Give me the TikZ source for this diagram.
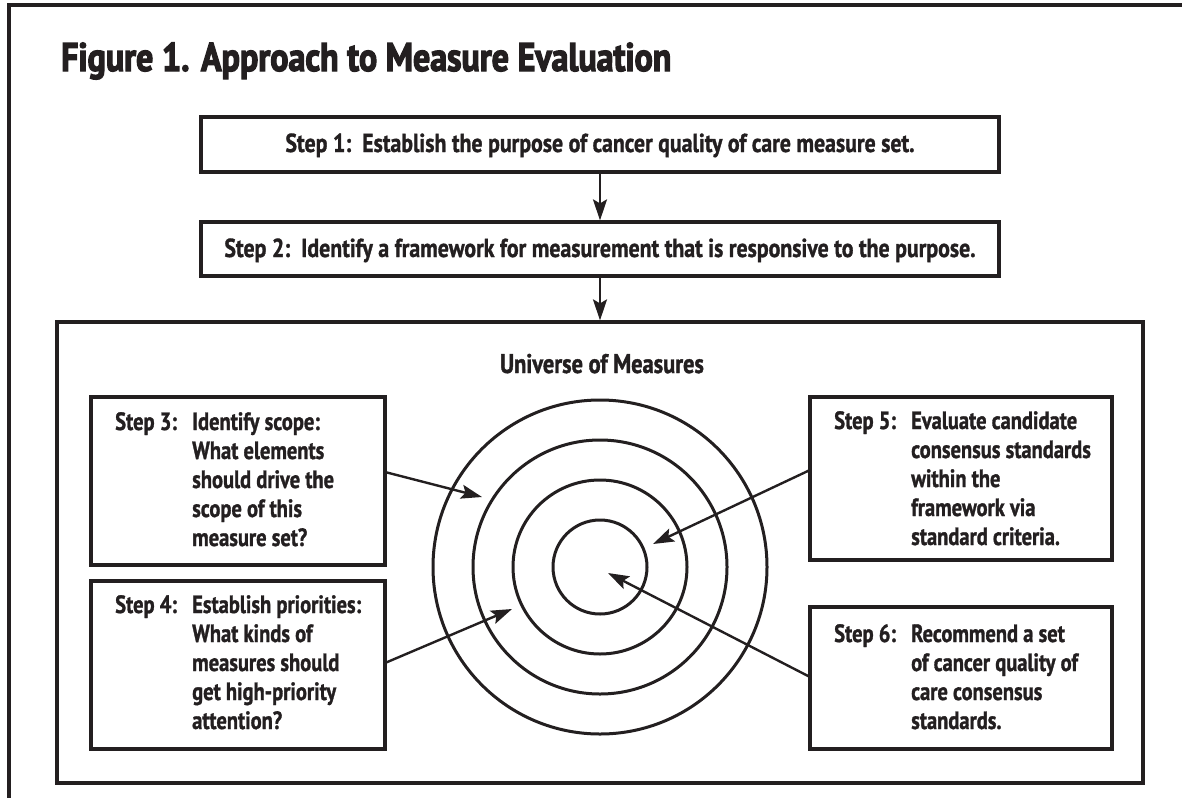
\documentclass[tikz,border=0pt]{standalone}
\usepackage{fontspec}
\newfontfamily\bodyfont{PT Sans Bold}[FakeStretch=0.82, FakeBold=1.2]
\newfontfamily\widefont{PT Sans Bold}[FakeStretch=0.84, FakeBold=1.2]
\newfontfamily\headfont{PT Sans Bold}[FakeStretch=0.83, FakeBold=1.4]
\newfontfamily\titlefont{PT Sans Bold}[FakeStretch=0.85, FakeBold=3]
\usetikzlibrary{arrows.meta}
\definecolor{ink}{HTML}{231F20}
\begin{document}
\begin{tikzpicture}[x=1pt,y=-1pt,
  box/.style={draw=ink, line width=3.3pt, rectangle, inner sep=0pt, outer sep=0pt, anchor=north west},
  txt/.style={text=ink, font=\bodyfont\fontsize{25}{29}\selectfont, inner sep=0pt},
  wtxt/.style={text=ink, font=\widefont\fontsize{26}{30}\selectfont, inner sep=0pt},
  arr/.style={draw=ink, line width=2.4pt, -{Stealth[length=21pt,width=14pt,inset=4pt]}},
  ring/.style={draw=ink, line width=3pt, circle, inner sep=0pt},
]
\useasboundingbox (0,0) rectangle (1182,798);
% outer frame (open to the right and bottom)
\draw[draw=ink, line width=3.4pt] (1182,5) -| (9,798);
% title
\node[anchor=base west, text=ink, font=\titlefont\fontsize{40}{44}\selectfont, inner sep=0pt] (title) at (61,71) {Figure 1. Approach to Measure Evaluation};
% boxes
\node[box, minimum width=798pt, minimum height=55pt] (s1) at (201,117) {};
\node[box, minimum width=798pt, minimum height=54pt] (s2) at (201,222) {};
\node[box, minimum width=1086pt, minimum height=461pt] (u) at (57,322) {};
\node[box, minimum width=294pt, minimum height=168pt] (s3) at (91,397) {};
\node[box, minimum width=294pt, minimum height=168pt] (s4) at (91,581) {};
\node[box, minimum width=302pt, minimum height=163pt] (s5) at (810,397) {};
\node[box, minimum width=302pt, minimum height=142pt] (s6) at (810,607) {};
% texts
\node[wtxt, anchor=base] (s1t) at (600,152) {Step 1:\hspace{11pt}Establish the purpose of cancer quality of care measure set.};
\node[wtxt, anchor=base] (s2t) at (600,257) {Step 2:\hspace{11pt}Identify a framework for measurement that is responsive to the purpose.};
\node[text=ink, font=\headfont\fontsize{27}{30}\selectfont, inner sep=0pt, anchor=base] (ut) at (602,373) {Universe of Measures};
\node[txt, anchor=base west] (s3t) at (115,430) {\begin{tabular}[t]{@{}p{77pt}@{}l@{}}Step 3: & Identify scope:\\ & What elements\\ & should drive the\\ & scope of this\\ & measure set?\end{tabular}};
\node[txt, anchor=base west] (s4t) at (115,613) {\begin{tabular}[t]{@{}p{77pt}@{}l@{}}Step 4: & Establish priorities:\\ & What kinds of\\ & measures should\\ & get high-priority\\ & attention?\end{tabular}};
\node[txt, anchor=base west] (s5t) at (834,429) {\begin{tabular}[t]{@{}p{77pt}@{}l@{}}Step 5: & Evaluate candidate\\ & consensus standards\\ & within the\\ & framework via\\ & standard criteria.\end{tabular}};
\node[txt, anchor=base west] (s6t) at (834,642) {\begin{tabular}[t]{@{}p{77pt}@{}l@{}}Step 6: & Recommend a set\\ & of cancer quality of\\ & care consensus\\ & standards.\end{tabular}};
% target rings
\node[ring, minimum size=334pt] (c4) at (600,567) {};
\node[ring, minimum size=254pt] (c3) at (600,567) {};
\node[ring, minimum size=174pt] (c2) at (600,567) {};
\node[ring, minimum size=94pt] (c1) at (600,567) {};
% arrow tips
\coordinate (t3) at (482,497);
\coordinate (t4) at (512,609);
\coordinate (t5) at (653,544);
\coordinate (t6) at (608,573);
% connectors
\draw[arr, shorten >=1.6pt] (s1.south) -- (s2.north);
\draw[arr, shorten >=1.6pt] (s2.south) -- (u.north);
\draw[arr] ([yshift=9pt]s3.east) -- (t3);
\draw[arr] ([yshift=2pt]s4.east) -- (t4);
\draw[arr] ([yshift=8.5pt]s5.west) -- (t5);
\draw[arr] ([yshift=1pt]s6.west) -- (t6);
\end{tikzpicture}
\end{document}
